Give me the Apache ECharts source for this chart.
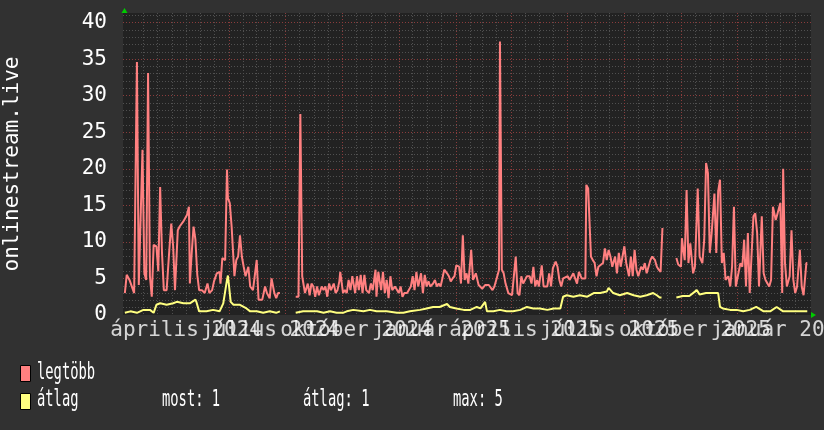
<!DOCTYPE html>
<html><head><meta charset="utf-8">
<script src="https://cdn.jsdelivr.net/npm/echarts@6/dist/echarts.min.js"></script>
<style>html,body{margin:0;padding:0;background:#313131;}#c{width:824px;height:430px;}</style>
</head><body><div id="c"></div>
<script>
// ---- data ----
const startDate = '2024-02-08';
const totalDays = 741;
// month labels are centred in the middle of their month
const labelDates = ['2024-04-16','2024-07-16','2024-10-16','2025-01-16','2025-04-16','2025-07-16','2025-10-16','2026-01-16'];
const tickLabels = ['április 2024','július 2024','október 2024','január 2025','április 2025','július 2025','október 2025','január 2026'];
const majorGridDates = ['2024-04-01','2024-06-01','2024-08-01','2024-10-01','2024-12-01','2025-02-01','2025-04-01','2025-06-01','2025-08-01','2025-10-01','2025-12-01','2026-02-01'];
const yMax = 41.3;

const maxDays = [2,4,7,9,12,13,15,17,19,21,23,25,27,29,31,33,36,38,40,42,44,47,50,52,54,56,59,61,65,69,71,72,74,76,78,80,82,85,88,91,93,96,98,101,104,105,107,110,112,113,115,117,120,122,124,126,128,130,132,135,137,140,142,144,146,148,150,153,155,158,160,163,165,167,169,177,
186,189,191,193,194,196,199,201,203,205,207,209,211,214,216,218,220,222,224,227,229,231,233,234,237,239,241,243,245,247,250,252,254,256,258,260,262,265,267,269,272,273,275,278,280,282,284,286,288,290,293,295,297,299,301,303,306,308,310,312,314,316,318,321,323,325,327,329,331,334,336,338,340,342,344,346,349,351,353,355,357,359,362,364,366,
368,370,372,375,377,380,383,385,387,390,392,394,396,398,400,402,405,406,408,410,412,415,417,419,421,423,425,427,429,431,433,435,438,440,442,444,446,448,451,453,455,457,459,461,463,466,468,470,472,474,476,479,481,483,485,487,489,491,494,496,498,499,501,504,506,508,510,512,514,517,519,521,523,525,527,530,532,534,536,538,540,542,545,547,549,551,553,555,558,560,562,564,566,568,570,573,575,577,579,581,590,
596,598,601,602,603,605,607,609,611,614,616,618,619,621,624,626,628,630,632,634,637,639,641,643,645,647,649,652,654,656,658,660,662,665,667,669,671,673,675,677,679,681,683,685,688,690,692,694,696,698,700,703,705,708,710,711,713,715,718,720,722,724,726,729,731,733,736,737];
const maxValues = [3.0,5.5,4.8,4.6,3.0,3.0,34.6,4.1,4.3,22.6,5.7,4.8,33.1,5.3,2.5,9.6,9.4,6.0,17.5,8.5,3.4,3.4,9.1,12.5,9.4,3.4,11.6,12.1,12.8,13.7,14.8,4.3,8.5,12.1,10.3,5.5,3.4,3.4,3.0,4.3,3.0,3.4,4.6,5.7,5.9,4.3,7.8,7.5,19.9,16.0,15.3,12.1,5.3,7.5,8.0,10.9,8.0,6.6,5.3,6.6,3.9,3.4,3.4,7.5,2.1,2.3,2.1,3.9,3.0,2.3,5.0,3.0,2.3,3.0,3.0,null,
2.5,2.5,27.5,5.3,5.3,3.0,4.3,2.7,4.3,3.9,2.5,3.9,2.7,3.9,3.4,3.9,2.5,4.3,3.4,4.3,3.0,3.4,4.6,5.9,3.0,3.4,3.0,4.8,3.4,5.3,3.0,5.3,3.4,5.5,3.0,5.5,3.4,3.0,4.3,3.4,6.2,2.5,5.9,3.4,5.9,3.0,4.8,2.3,5.3,3.4,3.9,3.9,3.0,3.9,2.5,3.0,3.0,3.2,3.9,5.3,3.4,5.9,3.9,5.7,3.0,5.5,3.9,4.6,3.9,4.3,4.8,3.9,4.3,3.9,5.0,6.2,5.7,5.3,4.6,5.0,5.3,6.8,6.6,4.3,10.9,
4.8,5.7,4.3,8.9,4.8,5.7,4.1,4.3,3.6,4.1,3.9,4.1,4.3,3.4,3.9,4.8,6.2,37.4,6.2,5.7,4.3,3.0,3.0,2.7,2.5,8.0,3.0,2.7,5.3,4.3,4.8,5.3,5.3,4.3,6.6,3.9,4.8,3.9,6.8,3.9,3.9,3.9,5.7,3.9,6.4,7.3,6.6,4.8,3.9,5.0,4.8,5.3,4.8,4.8,5.7,5.9,4.3,5.9,5.0,4.8,5.0,17.8,17.3,8.0,7.5,7.1,5.3,6.6,6.8,7.1,9.1,7.5,8.9,8.0,6.6,8.0,5.7,8.5,6.6,6.6,9.4,7.1,5.3,8.0,5.3,8.9,6.2,5.3,6.6,6.2,7.1,5.7,6.6,7.5,8.0,7.5,6.6,6.2,5.9,11.9,null,
7.8,6.9,6.6,10.5,9.4,7.5,17.1,7.1,9.8,5.7,6.6,6.6,17.3,8.0,7.1,10.3,20.8,19.4,8.5,11.2,16.6,8.5,16.9,18.5,7.1,8.5,4.8,5.3,3.9,6.6,14.8,3.9,3.9,7.1,6.6,10.3,3.9,11.2,3.0,3.0,13.5,13.9,11.2,3.9,13.5,5.7,4.8,4.8,3.9,4.8,14.8,13.0,13.9,15.3,3.0,20.0,7.1,3.9,5.3,11.6,4.8,3.0,3.9,8.9,3.9,2.7,7.1,7.1];

const avgDays = [2,8,15,22,29,33,36,40,47,54,58,65,72,78,79,82,90,97,104,108,112,113,116,119,126,133,137,144,151,158,165,169,177,
186,194,201,209,216,223,230,237,241,248,259,266,273,284,295,302,309,320,327,334,341,349,352,359,367,374,381,385,390,392,399,406,413,420,428,435,442,449,457,464,471,474,478,485,492,500,507,514,521,523,528,535,543,550,557,564,571,575,578,580,590,
596,603,610,618,621,628,636,641,643,646,654,661,668,675,682,690,697,704,711,718,725,733,737];
const avgValues = [0.3,0.5,0.3,0.7,0.7,0.3,1.4,1.6,1.4,1.6,1.8,1.6,1.6,2.1,1.8,0.5,0.5,0.7,0.5,1.6,4.8,5.4,1.8,1.4,1.4,0.9,0.5,0.5,0.3,0.5,0.3,0.5,null,
0.3,0.5,0.5,0.5,0.3,0.5,0.3,0.3,0.5,0.7,0.5,0.7,0.5,0.5,0.3,0.3,0.5,0.7,0.9,1.1,1.1,1.5,1.1,0.9,0.7,0.7,1.1,0.9,1.8,0.5,0.5,0.7,0.5,0.5,0.7,1.1,0.9,0.9,0.7,0.9,0.9,2.5,2.7,2.5,2.7,2.5,3.0,3.0,3.2,3.7,3.0,2.7,3.0,2.7,2.5,2.7,3.0,2.7,2.4,2.4,null,
2.4,2.6,2.6,3.4,2.8,3.0,3.0,3.0,1.1,0.9,0.7,0.7,0.5,0.7,1.1,0.5,0.5,1.1,0.5,0.5,0.5,0.5,0.5];

const legendNames = ['legtöbb','átlag'];
const statLabels = ['most: 1','átlag: 1','max: 5'];

// ---- build ----
const DAY = 86400000;
const t0 = Date.parse(startDate + 'T00:00:00Z');
const dayOf = s => (Date.parse(s + 'T00:00:00Z') - t0) / DAY;
const labelPos = labelDates.map(dayOf);
const majorPos = majorGridDates.map(dayOf).filter(v => v > 0 && v < totalDays);
// minor grid: 1st and 16th of every month inside the range
const minorPos = [];
for (let y = 2024; y <= 2026; y++) for (let m = 0; m < 12; m++) for (const dd of [1, 16]) {
  const v = (Date.UTC(y, m, dd) - t0) / DAY;
  if (v > 0 && v < totalDays) minorPos.push(v);
}
const toData = (days, vals) => days.map((d, i) => [d, vals[i] === null ? '-' : vals[i]]);

const MONO = '"DejaVu Sans Mono", monospace';
const chart = echarts.init(document.getElementById('c'), null, {renderer: 'canvas'});
const dotted = (c) => ({color: c, width: 1, type: [1, 2]});

chart.setOption({
  backgroundColor: '#313131',
  animation: false,
  grid: {left: 123, right: 13, top: 13, bottom: 115, show: true, backgroundColor: '#222222', borderWidth: 0,
         containLabel: false, outerBoundsMode: 'none'},
  xAxis: [
    {type: 'value', min: 0, max: totalDays,
     axisLine: {show: false}, axisTick: {show: false, customValues: minorPos},
     axisLabel: {show: false, customValues: minorPos},
     splitLine: {show: true, showMinLine: false, showMaxLine: false, lineStyle: dotted('#505050')}},
    {type: 'value', min: 0, max: totalDays, position: 'bottom',
     axisLine: {show: false}, axisTick: {show: false, customValues: majorPos},
     axisLabel: {show: false, customValues: majorPos},
     splitLine: {show: true, showMinLine: false, showMaxLine: false, lineStyle: dotted('#8a3c3c')}}
  ],
  yAxis: [
    {type: 'value', min: 0, max: yMax, interval: 1,
     axisLine: {show: false}, axisTick: {show: false}, axisLabel: {show: false},
     splitLine: {show: true, showMinLine: false, showMaxLine: false, lineStyle: dotted('#505050')}},
    {type: 'value', min: 0, max: yMax, interval: 5, position: 'left',
     name: 'onlinestream.live', nameLocation: 'middle', nameGap: 100, nameRotate: 90,
     nameTextStyle: {color: '#ffffff', fontFamily: MONO, fontSize: 21},
     axisLine: {show: false}, axisTick: {show: false},
     axisLabel: {show: true, margin: 16, color: '#ffffff', fontFamily: MONO, fontSize: 21, showMaxLabel: false,
       formatter: v => (v % 5 === 0 ? String(v) : '')},
     splitLine: {show: true, showMinLine: false, showMaxLine: false, lineStyle: dotted('#8a3c3c')}}
  ],
  series: [
    {name: legendNames[0], type: 'line', xAxisIndex: 0, yAxisIndex: 0, data: toData(maxDays, maxValues),
     showSymbol: false, connectNulls: false, lineStyle: {color: '#ff8080', width: 2}, itemStyle: {color: '#ff8080'}, z: 3},
    {name: legendNames[1], type: 'line', xAxisIndex: 0, yAxisIndex: 0, data: toData(avgDays, avgValues),
     showSymbol: false, connectNulls: false, lineStyle: {color: '#ffff80', width: 2}, itemStyle: {color: '#ffff80'}, z: 4},
    {name: 'xlabels', type: 'scatter', xAxisIndex: 0, yAxisIndex: 0, data: labelPos.map(d => [d, 0]),
     symbolSize: 0, silent: true, clip: false, z: 10,
     label: {show: true, position: 'bottom', distance: 5, formatter: p => tickLabels[p.dataIndex],
       color: '#ffffff', fontFamily: MONO, fontSize: 21},
     labelLayout: {hideOverlap: false}}
  ],
  graphic: [
    {type: 'polygon', shape: {points: [[121.5, 13], [127.5, 13], [124.5, 8]]}, style: {fill: '#00cc00'}},
    {type: 'polygon', shape: {points: [[811, 312], [811, 318], [816, 315]]}, style: {fill: '#00cc00'}},
    {type: 'rect', shape: {x: 20.5, y: 365.5, width: 10, height: 16}, style: {fill: '#ff8080', stroke: '#000', lineWidth: 1}},
    {type: 'rect', shape: {x: 20.5, y: 393.5, width: 10, height: 16}, style: {fill: '#ffff80', stroke: '#000', lineWidth: 1}},
    {type: 'text', x: 37, y: 373, scaleX: 0.6, style: {text: legendNames[0], font: '23px ' + MONO, fill: '#fff', verticalAlign: 'middle'}},
    {type: 'text', x: 37, y: 400, scaleX: 0.6, style: {text: legendNames[1], font: '23px ' + MONO, fill: '#fff', verticalAlign: 'middle'}},
    {type: 'text', x: 162, y: 400, scaleX: 0.6, style: {text: statLabels[0], font: '23px ' + MONO, fill: '#fff', verticalAlign: 'middle'}},
    {type: 'text', x: 303, y: 400, scaleX: 0.6, style: {text: statLabels[1], font: '23px ' + MONO, fill: '#fff', verticalAlign: 'middle'}},
    {type: 'text', x: 453, y: 400, scaleX: 0.6, style: {text: statLabels[2], font: '23px ' + MONO, fill: '#fff', verticalAlign: 'middle'}}
  ]
});
</script></body></html>
